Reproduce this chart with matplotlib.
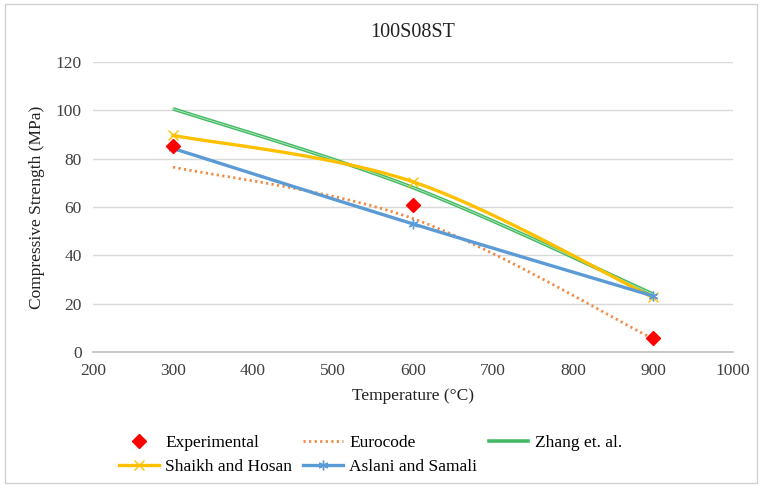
import matplotlib.pyplot as plt
import numpy as np
from matplotlib.patches import Rectangle

plt.rcParams['font.family'] = ['Liberation Serif', 'DejaVu Serif']

temps = [300, 600, 900]
experimental = [85.2, 61.0, 5.9]
eurocode = [76.5, 55.2, 5.5]
zhang = [100.6, 68.0, 24.0]
shaikh = [89.6, 70.4, 22.6]
aslani = [84.2, 53.0, 23.2]


def smooth(xs, ys, n=40):
    # excel-style smoothed line (bezier through the points)
    p = np.column_stack([xs, ys]).astype(float)
    ext = np.vstack([p[0], p, p[-1]])
    out = []
    t = np.linspace(0, 1, n)[:, None]
    for i in range(len(p) - 1):
        p0, p3 = ext[i + 1], ext[i + 2]
        c1 = p0 + (ext[i + 2] - ext[i]) / 6
        c2 = p3 - (ext[i + 3] - ext[i + 1]) / 6
        seg = (1 - t)**3 * p0 + 3 * (1 - t)**2 * t * c1 + 3 * (1 - t) * t**2 * c2 + t**3 * p3
        out.append(seg)
    out = np.vstack(out)
    return out[:, 0], out[:, 1]


fig = plt.figure(figsize=(7.62, 4.87), dpi=100)
ax = fig.add_axes([0.122, 0.277, 0.840, 0.596])

x, y = smooth(temps, eurocode)
h_euro, = ax.plot(x, y, color='#F08A45', lw=2, ls=(0, (0.8, 1.2)), label='Eurocode')
x, y = smooth(temps, zhang)
ax.plot(x, y, color='#45BA64', lw=2.6, solid_capstyle='butt')
ax.plot(x, y, color='#B5E8C2', lw=0.6)
h_zhang, = ax.plot([], [], color='#45BA64', lw=2.6, label='Zhang et. al.')
x, y = smooth(temps, shaikh)
ax.plot(x, y, color='#FFC000', lw=2.4)
ax.plot(temps, shaikh, ls='none', marker='x', ms=7, mew=1, color='#FFC000')
h_shaikh, = ax.plot([], [], color='#FFC000', lw=2.4, marker='x', ms=7, mew=1, label='Shaikh and Hosan')
x, y = smooth(temps, aslani)
ax.plot(x, y, color='#5B9BD5', lw=2.4)
ax.plot(temps, aslani, ls='none', marker=(6, 2, 0), ms=7, mew=1, color='#5B9BD5')
h_aslani, = ax.plot([], [], color='#5B9BD5', lw=2.4, marker=(6, 2, 0), ms=7, mew=1, label='Aslani and Samali')
h_exp, = ax.plot(temps, experimental, ls='none', marker='D', ms=7, color='#FF0000', label='Experimental', zorder=5)

ax.set_xlim(200, 1000)
ax.set_ylim(0, 120)
ax.set_xticks(np.arange(200, 1001, 100))
ax.set_yticks(np.arange(0, 121, 20))
ax.grid(axis='y', color='#D9D9D9', lw=1)
ax.set_axisbelow(True)
for s in ['top', 'right', 'left']:
    ax.spines[s].set_visible(False)
ax.spines['bottom'].set_color('#BFBFBF')
ax.spines['bottom'].set_linewidth(1.2)
ax.tick_params(length=0, labelsize=12.5, labelcolor='#404040', pad=8)
ax.set_xlabel('Temperature (°C)', fontsize=12.5, color='#222222', labelpad=6)
ax.set_ylabel('Compressive Strength (MPa)', fontsize=12.5, color='#222222', labelpad=8)
fig.text(0.542, 0.934, '100S08ST', ha='center', va='center', fontsize=14.5, color='#222222')

fig.legend(handles=[h_exp, h_shaikh, h_euro, h_aslani, h_zhang], ncol=3,
           loc='center', bbox_to_anchor=(0.486, 0.066), frameon=False,
           fontsize=12.5, handlelength=2.3, handletextpad=0.35, columnspacing=0.65,
           labelspacing=0.45)

fig.patches.append(Rectangle((0.007, 0.008), 0.986, 0.984, transform=fig.transFigure,
                             fill=False, edgecolor='#D0D0D0', lw=1))

fig.savefig('out.png', dpi=100)
